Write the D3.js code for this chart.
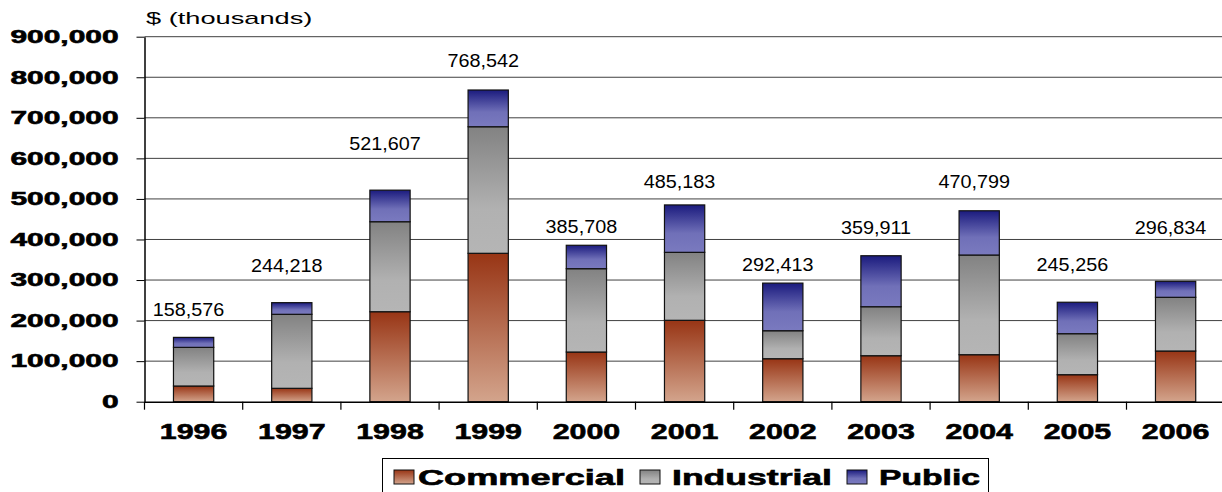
<!DOCTYPE html>
<html>
<head>
<meta charset="utf-8">
<script src="https://cdn.jsdelivr.net/npm/d3@7"></script>
<style>
  body { margin: 0; background: #fff; }
  text { font-family: "Liberation Sans", Arial, sans-serif; }
</style>
</head>
<body>
<script>
var years = ["1996", "1997", "1998", "1999", "2000", "2001", "2002", "2003", "2004", "2005", "2006"];
var seriesNames = ["Commercial", "Industrial", "Public"];
var commercial = [38700, 33000, 221900, 365900, 122500, 200700, 106000, 113400, 115900, 66600, 125000];
var industrial = [95300, 182500, 221900, 312100, 205500, 167600, 69000, 120800, 245800, 101100, 132400];
var publicWorks = [24576, 28718, 77807, 90542, 57708, 116883, 117413, 125711, 109099, 77556, 39434];
var totals = [158576, 244218, 521607, 768542, 385708, 485183, 292413, 359911, 470799, 245256, 296834];
// height (in $) where each total label sits
var labelLevel = [211000, 320000, 620000, 826000, 415000, 527000, 323000, 413000, 527000, 323000, 413000];
var yTicks = [0, 100000, 200000, 300000, 400000, 500000, 600000, 700000, 800000, 900000];

var W = 1222, H = 492;
var plotLeft = 144.5, plotBottom = 401.7, plotTop = 36.7, step = 98.2;

var rows = years.map(function(y, i) {
  return { year: y, Commercial: commercial[i], Industrial: industrial[i], Public: publicWorks[i] };
});

var svg = d3.select("body").append("svg")
  .attr("width", W)
  .attr("height", H);

svg.append("rect").attr("width", W).attr("height", H).attr("fill", "#fff");

// gradients for each series
var defs = svg.append("defs");
var grads = {
  Commercial: [[0, "#983515"], [1, "#d3a48c"]],
  Industrial: [[0, "#828282"], [0.65, "#b1b1b1"], [1, "#b5b5b5"]],
  Public: [[0, "#1b1b7e"], [0.6, "#7070b8"], [1, "#7a7abf"]]
};
seriesNames.forEach(function(s) {
  var g = defs.append("linearGradient")
    .attr("id", "g" + s)
    .attr("x1", 0).attr("y1", 0).attr("x2", 0).attr("y2", 1);
  grads[s].forEach(function(st) {
    g.append("stop").attr("offset", st[0]).attr("stop-color", st[1]);
  });
});

var x = d3.scaleBand()
  .domain(years)
  .range([plotLeft, plotLeft + step * years.length])
  .paddingInner(0.59)
  .paddingOuter(0.295);

var y = d3.scaleLinear()
  .domain([0, 900000])
  .range([plotBottom, plotTop]);

function stretch(sel, f) {
  sel.each(function() {
    var w = this.getComputedTextLength();
    d3.select(this).attr("textLength", w * f).attr("lengthAdjust", "spacingAndGlyphs");
  });
}

// heavy bold look, like the original chart font
function heavy(sel) {
  sel.attr("font-weight", "bold")
    .attr("fill", "#000")
    .attr("stroke", "#000")
    .attr("stroke-width", 0.6);
}

// gridlines
svg.append("g")
  .selectAll("line")
  .data(yTicks.filter(function(d) { return d > 0; }))
  .enter().append("line")
  .attr("x1", plotLeft).attr("x2", W)
  .attr("y1", function(d) { return y(d); })
  .attr("y2", function(d) { return y(d); })
  .attr("stroke", "#404040")
  .attr("stroke-width", 1);

// y axis
var yAxis = svg.append("g")
  .attr("transform", "translate(" + plotLeft + ",0)")
  .call(d3.axisLeft(y).tickValues(yTicks).tickFormat(d3.format(",")).tickSize(8).tickSizeOuter(0).tickPadding(18));
yAxis.select(".domain").attr("stroke", "#000").attr("stroke-width", 1.5);
yAxis.selectAll(".tick line").attr("stroke", "#000");
yAxis.selectAll("text")
  .attr("font-family", "Liberation Sans, Arial, sans-serif")
  .attr("font-size", 18)
  .call(heavy);
stretch(yAxis.selectAll("text"), 1.66);

// stacked bars
var stacked = d3.stack().keys(seriesNames)(rows);
svg.append("g")
  .selectAll("g")
  .data(stacked)
  .enter().append("g")
  .attr("fill", function(d) { return "url(#g" + d.key + ")"; })
  .selectAll("rect")
  .data(function(d) { return d; })
  .enter().append("rect")
  .attr("x", function(d) { return x(d.data.year); })
  .attr("y", function(d) { return y(d[1]); })
  .attr("width", x.bandwidth())
  .attr("height", function(d) { return y(d[0]) - y(d[1]); })
  .attr("stroke", "#111")
  .attr("stroke-width", 1.2);

// x axis
var xAxis = svg.append("g")
  .attr("transform", "translate(0," + plotBottom + ")")
  .call(d3.axisBottom(x).tickSize(0).tickPadding(21.7));
xAxis.select(".domain").attr("stroke", "#000").attr("stroke-width", 1.5);
xAxis.selectAll("text")
  .attr("font-family", "Liberation Sans, Arial, sans-serif")
  .attr("font-size", 22)
  .call(heavy);
stretch(xAxis.selectAll("text"), 1.38);

// tick marks between categories
xAxis.selectAll(".sep")
  .data(d3.range(years.length + 1))
  .enter().append("line")
  .attr("class", "sep")
  .attr("x1", function(i) { return x.range()[0] + i * x.step(); })
  .attr("x2", function(i) { return x.range()[0] + i * x.step(); })
  .attr("y1", 0).attr("y2", 8)
  .attr("stroke", "#000")
  .attr("stroke-width", 1.2);

// total labels
var fmt = d3.format(",");
var labels = svg.append("g")
  .selectAll("text")
  .data(years)
  .enter().append("text")
  .attr("x", function(d) { return x(d) + x.bandwidth() / 2 - 5; })
  .attr("y", function(d, i) { return y(labelLevel[i]); })
  .attr("text-anchor", "middle")
  .attr("font-size", 18)
  .attr("fill", "#000")
  .text(function(d, i) { return fmt(totals[i]); });
stretch(labels, 1.1);

// unit title
var title = svg.append("text")
  .attr("x", 146)
  .attr("y", 24)
  .attr("font-size", 17)
  .attr("fill", "#000")
  .text("$ (thousands)");
stretch(title, 1.6);

// legend
var legend = svg.append("g");
legend.append("rect")
  .attr("x", 382.5).attr("y", 458.5)
  .attr("width", 606).attr("height", 50)
  .attr("fill", "#fff")
  .attr("stroke", "#000")
  .attr("stroke-width", 1);
var legendPos = [
  { sx: 394, tx: 418, tw: 207 },
  { sx: 640, tx: 672, tw: 160 },
  { sx: 847, tx: 879, tw: 101 }
];
seriesNames.forEach(function(s, i) {
  var p = legendPos[i];
  legend.append("rect")
    .attr("x", p.sx).attr("y", 470)
    .attr("width", 20).attr("height", 14)
    .attr("fill", "url(#g" + s + ")")
    .attr("stroke", "#111")
    .attr("stroke-width", 1);
  legend.append("text")
    .attr("x", p.tx).attr("y", 484.5)
    .attr("font-size", 22)
    .attr("textLength", p.tw)
    .attr("lengthAdjust", "spacingAndGlyphs")
    .text(s)
    .call(heavy);
});
</script>
</body>
</html>
